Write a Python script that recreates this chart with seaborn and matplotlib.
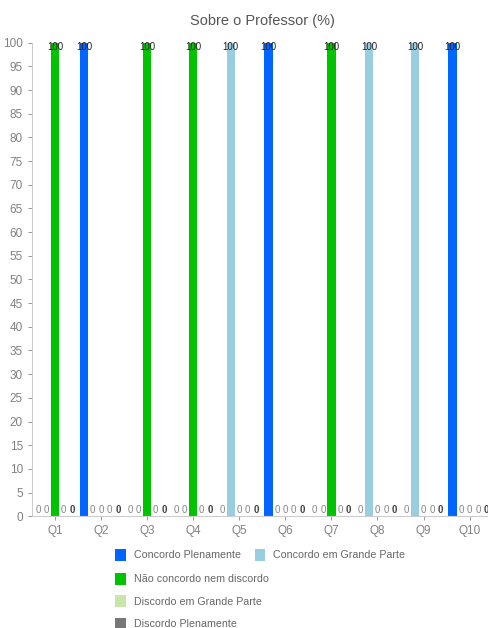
import pandas as pd
import numpy as np
import matplotlib
matplotlib.use('Agg')
import matplotlib.pyplot as plt
import seaborn as sns
from matplotlib.patches import Patch

# Dados (%)
perguntas = ['Q1', 'Q2', 'Q3', 'Q4', 'Q5', 'Q6', 'Q7', 'Q8', 'Q9', 'Q10']
respostas = ['Concordo Plenamente', 'Concordo em Grande Parte', 'Não concordo nem discordo',
             'Discordo em Grande Parte', 'Discordo Plenamente']
concordo_plen = [0, 100, 0, 0, 0, 100, 0, 0, 0, 100]
concordo_gp = [0, 0, 0, 0, 100, 0, 0, 100, 100, 0]
nao_concordo = [100, 0, 100, 100, 0, 0, 100, 0, 0, 0]
discordo_gp = [0, 0, 0, 0, 0, 0, 0, 0, 0, 0]
discordo_plen = [0, 0, 0, 0, 0, 0, 0, 0, 0, 0]

cores = ['#0066ff', '#99cde0', '#00c400', '#c6e7a9', '#777777']
cores_label = ['#888888', '#888888', '#888888', '#888888', '#444444']

series = [concordo_plen, concordo_gp, nao_concordo, discordo_gp, discordo_plen]
df = pd.DataFrame({
    'Pergunta': perguntas * 5,
    'Resposta': np.repeat(respostas, len(perguntas)),
    'Valor': np.concatenate(series)
})

sns.set_style('white')
plt.rcParams['font.family'] = ['Liberation Sans', 'DejaVu Sans']

fig = plt.figure(figsize=(4.89, 6.28), dpi=100)
ax = fig.add_axes([0.0654, 0.178, 0.942, 0.754])

sns.barplot(data=df, x='Pergunta', y='Valor', hue='Resposta', hue_order=respostas,
            palette=dict(zip(respostas, cores)), width=0.92, ax=ax, legend=False,
            saturation=1, linewidth=0)

# rótulos de valores
for i, cont in enumerate(ax.containers):
    for bar in cont:
        v = bar.get_height()
        x = bar.get_x() + bar.get_width() / 2
        cor = '#222222' if v > 0 else cores_label[i]
        ax.text(x, min(v + 0.3, 98.0), f'{v:.0f}', ha='center', va='bottom',
                fontsize=7, color=cor, fontweight='bold' if i == 4 else 'normal')

ax.set_ylim(0, 100)
ax.set_yticks(np.arange(0, 101, 5))
ax.set_xlabel('')
ax.set_ylabel('')
ax.set_title('Sobre o Professor (%)', fontsize=10.5, color='#555555', pad=13)
ax.tick_params(axis='both', colors='#888888', labelsize=8.5, length=3, width=0.6,
               left=True, bottom=True)
for lab in ax.get_xticklabels() + ax.get_yticklabels():
    lab.set_color('#808080')
for s in ['top', 'right']:
    ax.spines[s].set_visible(False)
for s in ['left', 'bottom']:
    ax.spines[s].set_color('#cccccc')
    ax.spines[s].set_linewidth(0.8)

# legenda
handles = [Patch(facecolor=c, edgecolor='none') for c in cores]
leg1 = fig.legend(handles[:2], respostas[:2], ncol=2, loc='upper left',
                  bbox_to_anchor=(0.235, 0.126), frameon=False, fontsize=7.7,
                  handlelength=1.0, handleheight=1.3, handletextpad=0.75, columnspacing=1.3,
                  labelcolor='#666666', borderaxespad=0, borderpad=0)
leg2 = fig.legend(handles[2:], respostas[2:], ncol=1, loc='upper left',
                  bbox_to_anchor=(0.235, 0.0875), frameon=False, fontsize=7.7,
                  handlelength=1.0, handleheight=1.3, handletextpad=0.75, labelspacing=1.0,
                  labelcolor='#666666', borderaxespad=0, borderpad=0)

fig.savefig('out.png', dpi=100)
